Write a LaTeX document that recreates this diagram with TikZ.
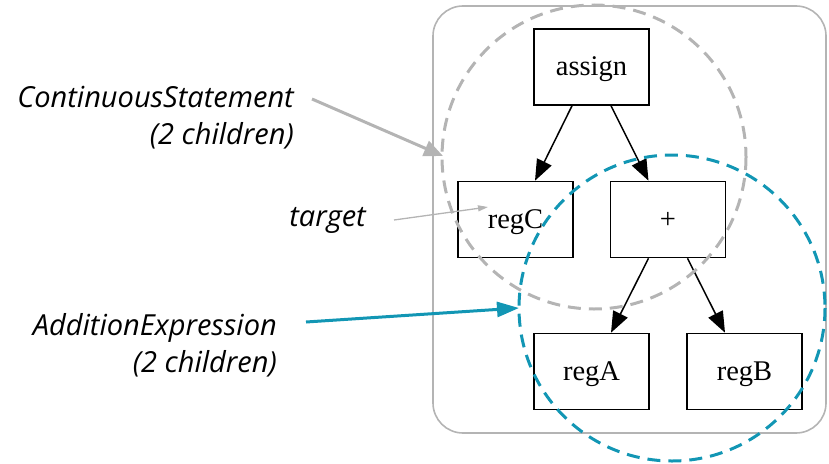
\documentclass[tikz,border=0pt]{standalone}
\usepackage{fontspec}
\setmainfont{Liberation Serif}
\newfontfamily\labelfont{Open Sans}
\usetikzlibrary{arrows.meta}

\definecolor{clgray}{RGB}{180,180,180}
\definecolor{clblue}{RGB}{18,150,180}

\begin{document}
\begin{tikzpicture}[x=1pt,y=-1pt,
  ast/.style={draw,line width=1.6pt,minimum width=115pt,minimum height=76pt,inner sep=0pt,text height=20pt,text depth=3pt,font=\fontsize{28.5}{30}\selectfont},
  edge/.style={line width=1.5pt,-{Triangle[length=21pt,width=16pt]}},
  note/.style={font=\labelfont\itshape\fontsize{29}{37}\selectfont,align=right,anchor=east,inner sep=0pt},
  group/.style={dashed,dash pattern=on 13pt off 8pt,line width=3pt}]
\useasboundingbox (0,0) rectangle (829,463);

\draw[clgray,line width=1.6pt,rounded corners=30pt] (433,6) rectangle (826,433);

\node[ast] (assign) at (591.5,67) {assign};
\node[ast] (regC) at (515.5,219.5) {regC};
\node[ast] (plus) at (668,219.5) {+};
\node[ast] (regA) at (591.5,371.5) {regA};
\node[ast] (regB) at (744.5,371.5) {regB};

\draw[edge] ([xshift=-19.5pt]assign.south) -- ([xshift=19.5pt]regC.north);
\draw[edge] ([xshift=19.5pt]assign.south) -- ([xshift=-19.5pt]plus.north);
\draw[edge] ([xshift=-19.5pt]plus.south) -- ([xshift=19.5pt]regA.north);
\draw[edge] ([xshift=19.5pt]plus.south) -- ([xshift=-19.5pt]regB.north);

% groups
\draw[group,clgray] (594,157) circle (152);
\draw[group,clblue] (672,308) circle (153);

\node[note] (cs) at (294,118) {ContinuousStatement\\(2 children)};
\node[note] (tg) at (366,220) {target};
\node[note] (ae) at (277,345) {AdditionExpression\\(2 children)};

\coordinate (csend) at (443,156);
\coordinate (tgend) at (488,207);
\coordinate (aeend) at (519,308);
\draw[clgray,line width=3pt,-{Triangle[length=19pt,width=16pt]}] ([xshift=18pt,yshift=19pt]cs.east) -- (csend);
\draw[clgray,line width=1.3pt,-{Triangle[length=10pt,width=6pt]}] ([xshift=28pt]tg.east) -- (tgend);
\draw[clblue,line width=3pt,-{Triangle[length=22pt,width=15pt]}] ([xshift=29pt,yshift=23pt]ae.east) -- (aeend);
\end{tikzpicture}
\end{document}
